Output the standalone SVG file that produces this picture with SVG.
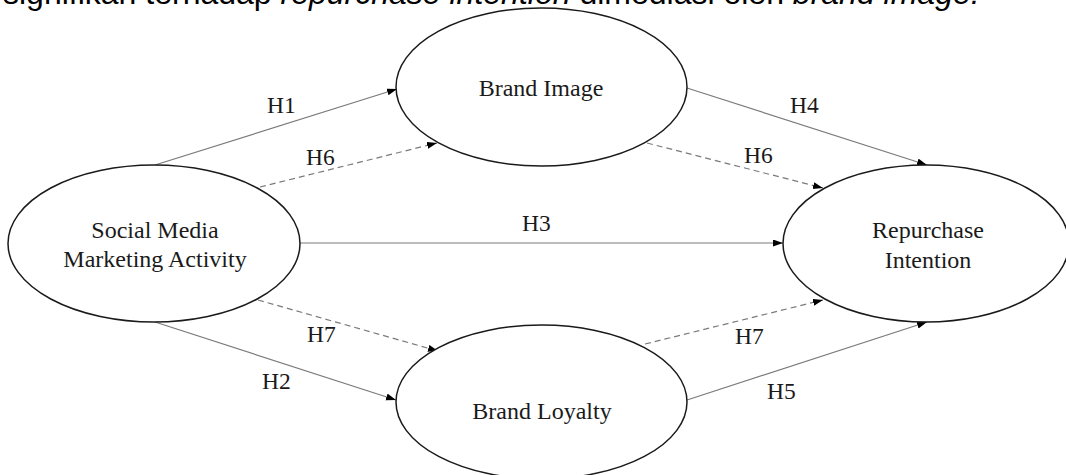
<svg xmlns="http://www.w3.org/2000/svg" width="1066" height="475" viewBox="0 0 1066 475">
<style>
.node{fill:#fff;stroke:#1a1a1a;stroke-width:1.5}
.lbl{font-family:"Liberation Serif","Times New Roman",serif;font-size:24px;fill:#1a1a1a}
.h{font-family:"Liberation Serif","Times New Roman",serif;font-size:23.5px;fill:#1a1a1a}
.ln{stroke:#7a7a7a;stroke-width:1.2;fill:none}
.dash{stroke-dasharray:6 4}
.cap{font-family:"Liberation Sans",Arial,sans-serif;font-size:32px;fill:#000}
</style>
<defs>
<marker id="arr" markerUnits="userSpaceOnUse" markerWidth="11" markerHeight="8" refX="10" refY="3.5" orient="auto">
<path d="M0,0 L10,3.5 L0,7 z" fill="#000"/>
</marker>
</defs>
<text class="cap" x="3" y="4">signifikan terhadap <tspan font-style="italic">repurchase intention</tspan> dimediasi oleh <tspan font-style="italic">brand image.</tspan></text>
<g id="connectors">
<line class="ln" x1="155" y1="165" x2="397" y2="89" marker-end="url(#arr)"/>
<line class="ln dash" x1="260" y1="187" x2="437" y2="143" marker-end="url(#arr)"/>
<line class="ln" x1="687" y1="88" x2="927" y2="165" marker-end="url(#arr)"/>
<line class="ln dash" x1="647" y1="143" x2="823" y2="188" marker-end="url(#arr)"/>
<line class="ln" x1="300" y1="243" x2="783" y2="243" marker-end="url(#arr)"/>
<line class="ln dash" x1="258" y1="300" x2="438" y2="351" marker-end="url(#arr)"/>
<line class="ln" x1="155" y1="322" x2="396" y2="400" marker-end="url(#arr)"/>
<line class="ln dash" x1="645" y1="344" x2="823" y2="300" marker-end="url(#arr)"/>
<line class="ln" x1="687" y1="400" x2="927" y2="322" marker-end="url(#arr)"/>
<text class="h" x="267" y="113">H1</text>
<text class="h" x="306" y="165">H6</text>
<text class="h" x="790" y="113">H4</text>
<text class="h" x="744" y="163">H6</text>
<text class="h" x="522" y="231">H3</text>
<text class="h" x="307" y="342">H7</text>
<text class="h" x="262" y="389">H2</text>
<text class="h" x="735" y="344">H7</text>
<text class="h" x="767" y="399">H5</text>
</g>
<g id="smma">
<ellipse class="node" cx="154" cy="243.5" rx="146" ry="78.5"/>
<text class="lbl" x="155" y="238" text-anchor="middle">Social Media</text>
<text class="lbl" x="155" y="267" text-anchor="middle">Marketing Activity</text>
</g>
<g id="brand-image">
<ellipse class="node" cx="541.5" cy="87" rx="145.5" ry="79"/>
<text class="lbl" x="541" y="96" text-anchor="middle">Brand Image</text>
</g>
<g id="brand-loyalty">
<ellipse class="node" cx="541.5" cy="402" rx="145.5" ry="77"/>
<text class="lbl" x="542" y="419" text-anchor="middle">Brand Loyalty</text>
</g>
<g id="repurchase">
<ellipse class="node" cx="926" cy="243.5" rx="143" ry="78.5"/>
<text class="lbl" x="928" y="238" text-anchor="middle">Repurchase</text>
<text class="lbl" x="928" y="268" text-anchor="middle">Intention</text>
</g>
</svg>
